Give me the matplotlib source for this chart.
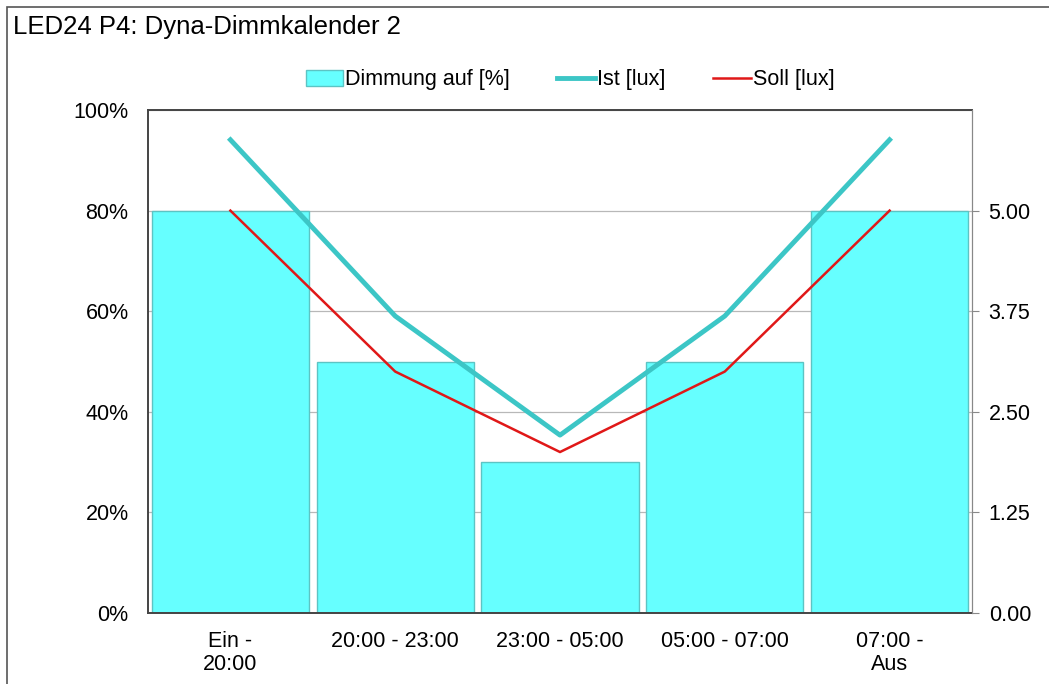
import matplotlib.pyplot as plt
import numpy as np
from matplotlib.patches import Rectangle

plt.rcParams['font.family'] = ['Liberation Sans', 'DejaVu Sans']

categories = ['Ein -\n20:00', '20:00 - 23:00', '23:00 - 05:00', '05:00 - 07:00', '07:00 -\nAus']
dimmung = [80, 50, 30, 50, 80]
ist_lux = [5.88, 3.69, 2.21, 3.69, 5.88]
soll_lux = [5.00, 3.00, 2.00, 3.00, 5.00]
left_ticks = [0, 20, 40, 60, 80, 100]
right_ticks = [0.00, 1.25, 2.50, 3.75, 5.00]

fs = 15.5

fig = plt.figure(figsize=(10.49, 6.84), dpi=100)
fig.patches.append(Rectangle((7 / 1049, -0.01), 1.02, 1 - 7 / 684 + 0.01,
                             transform=fig.transFigure, fill=False,
                             edgecolor='#555555', linewidth=1.2))

ax = fig.add_axes([148 / 1049, 1 - 613 / 684, 824 / 1049, 503 / 684])
x = np.arange(len(categories))

ax.set_axisbelow(True)
ax.yaxis.grid(True, color='#b8b8b8', linewidth=0.9)
bars = ax.bar(x, dimmung, width=0.955, color='#66ffff', edgecolor='#5cc4c4',
              linewidth=1.0, label='Dimmung auf [%]', zorder=2)
ax.set_xlim(-0.5, len(categories) - 0.5)
ax.set_ylim(0, 100)
ax.set_yticks(left_ticks)
ax.set_yticklabels([f'{t}%' for t in left_ticks])
ax.set_xticks(x)
ax.set_xticklabels(categories, linespacing=1.15)
ax.tick_params(axis='both', length=0, labelsize=fs)
ax.tick_params(axis='y', pad=14)
ax.tick_params(axis='x', pad=13)
for s in ['left', 'bottom', 'top']:
    ax.spines[s].set_color('#444444')
    ax.spines[s].set_linewidth(1.4)
ax.spines['right'].set_color('#888888')

ax2 = ax.twinx()
ax2.set_ylim(0, 6.25)
ist_line, = ax2.plot(x, ist_lux, color='#3cc6c6', linewidth=3.5,
                     label='Ist [lux]', zorder=3)
soll_line, = ax2.plot(x, soll_lux, color='#e01818', linewidth=1.8,
                      label='Soll [lux]', zorder=3)
ax2.set_yticks(right_ticks)
ax2.set_yticklabels([f'{t:.2f}' for t in right_ticks])
ax2.tick_params(axis='y', length=5, color='#888888', labelsize=fs, pad=7)
for s in ['left', 'bottom', 'top']:
    ax2.spines[s].set_visible(False)
ax2.spines['right'].set_color('#888888')

fig.legend([bars, ist_line, soll_line], ['Dimmung auf [%]', 'Ist [lux]', 'Soll [lux]'],
           loc='center', bbox_to_anchor=(570 / 1049, 1 - 80 / 684), ncol=3,
           frameon=False, fontsize=fs, handlelength=1.75, handletextpad=0.1,
           columnspacing=2.2, handleheight=0.8)

fig.text(13 / 1049, 1 - 27 / 684, 'LED24 P4: Dyna-Dimmkalender 2', fontsize=18.5,
         va='center', ha='left')

fig.savefig('out.png', dpi=100)
